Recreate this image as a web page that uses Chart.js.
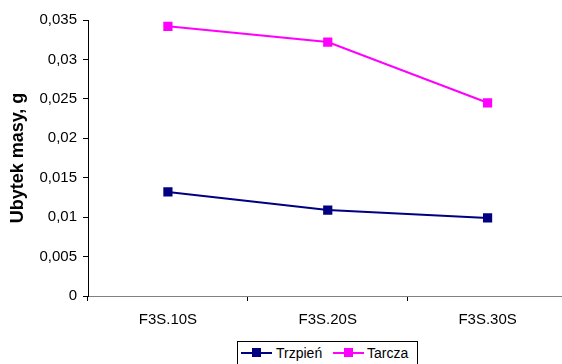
<!DOCTYPE html>
<html>
<head>
<meta charset="utf-8">
<script src="https://cdn.jsdelivr.net/npm/chart.js@4"></script>
<style>
  html, body { margin: 0; padding: 0; background: #fff; overflow: hidden; }
  #wrap { position: absolute; left: 0; top: 0; width: 574px; height: 364px; }
  #legend {
    position: absolute; left: 237px; top: 341px; width: 179px; height: 22px;
    border: 1px solid #000; background: #fff;
    font-family: "Liberation Sans", Arial, sans-serif; font-size: 14px; color: #000;
  }
  .item { position: absolute; top: 0; height: 22px; line-height: 22px; }
  .ln { position: absolute; top: 10px; width: 31px; height: 2px; }
  .sq { position: absolute; top: 6px; width: 9px; height: 9px; }
</style>
</head>
<body>
<div id="wrap"><canvas id="chart" width="574" height="364"></canvas></div>
<div id="legend">
  <div class="ln" style="left:3px;background:#000080"></div>
  <div class="sq" style="left:14px;background:#000080"></div>
  <div class="item" style="left:38px">Trzpień</div>
  <div class="ln" style="left:95px;background:#ff00ff"></div>
  <div class="sq" style="left:106px;background:#ff00ff"></div>
  <div class="item" style="left:129px">Tarcza</div>
</div>
<script>
const categories = ['F3S.10S', 'F3S.20S', 'F3S.30S'];
const trzpien = [0.0132, 0.0109, 0.0099];
const tarcza = [0.0342, 0.0322, 0.0245];

const fmt = v => String(Math.round(v * 1000) / 1000).replace('.', ',');

const config = {
  type: 'line',
  data: {
    labels: categories,
    datasets: [
      {
        label: 'Trzpień',
        data: trzpien,
        borderColor: '#000080',
        backgroundColor: '#000080',
        borderWidth: 2,
        pointStyle: 'rect',
        pointRadius: 6.5,
        pointBorderWidth: 0
      },
      {
        label: 'Tarcza',
        data: tarcza,
        borderColor: '#ff00ff',
        backgroundColor: '#ff00ff',
        borderWidth: 2,
        pointStyle: 'rect',
        pointRadius: 6.5,
        pointBorderWidth: 0
      }
    ]
  },
  options: {
    responsive: false,
    animation: false,
    layout: { padding: { top: 20, right: 6, left: 0, bottom: 0 } },
    plugins: {
      legend: { display: false },
      tooltip: { enabled: false }
    },
    scales: {
      x: {
        offset: true,
        grid: { offset: true, drawOnChartArea: false, drawTicks: true, tickLength: 5, color: '#000' },
        border: { color: '#808080', width: 1 },
        ticks: { color: '#000', padding: 10, font: { family: 'Liberation Sans', size: 15 } },
        afterFit: s => { s.height = 68; }
      },
      y: {
        min: 0,
        max: 0.035,
        grid: { drawOnChartArea: false, drawTicks: true, tickLength: 5, color: '#000' },
        border: { color: '#000', width: 1 },
        ticks: {
          stepSize: 0.005,
          color: '#000',
          padding: 6,
          font: { family: 'Liberation Sans', size: 15 },
          callback: v => fmt(v)
        },
        title: {
          display: true,
          text: 'Ubytek masy, g',
          color: '#000',
          padding: { top: 7, bottom: 0 },
          font: { family: 'Liberation Sans', size: 18, weight: 'bold' }
        },
        afterFit: s => { s.width = 88; }
      }
    }
  }
};

const chart = new Chart(document.getElementById('chart'), config);
</script>
</body>
</html>
